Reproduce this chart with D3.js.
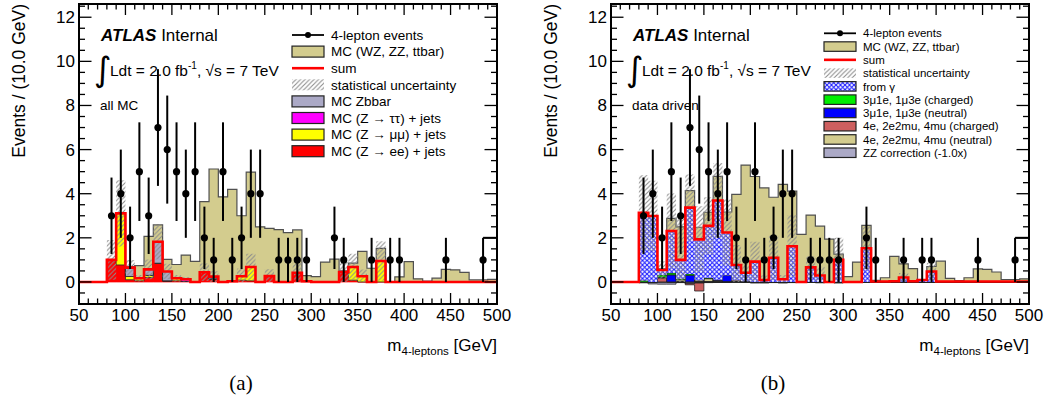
<!DOCTYPE html>
<html>
<head>
<meta charset="utf-8">
<script src="https://cdn.jsdelivr.net/npm/d3@7"></script>
<style>
  html, body { margin: 0; padding: 0; background: #fff; }
  svg { display: block; font-family: "Liberation Sans", Arial, Helvetica, sans-serif; }
</style>
</head>
<body>
<svg id="chart" width="1050" height="408"></svg>
<script>
// ---- binning and axis ranges ----------------------------------------------
const binLow = d3.range(50, 500, 10);          // 45 bins of 10 GeV
const massRange = [50, 500];
const eventRange = [-1, 12.6];
const xMajorTicks = d3.range(50, 501, 50);
const xMinorTicks = d3.range(50, 501, 10);
const yMajorTicks = d3.range(0, 13, 2);
const yMinorTicks = d3.range(-1, 12.51, 0.5);

// ---- observed 4-lepton events per bin --------------------------------------
const dataCounts = [0, 0, 0,
  3, 4, 2, 5, 3, 7, 6, 5, 4, 5,
  2, 1, 5, 1, 2, 4, 4, 0, 1, 1,
  1, 1, 0, 0, 2, 1, 0, 0, 1, 0,
  1, 1, 0, 0, 0, 0, 1, 0, 0, 0,
  1, 0];

// ---- irreducible MC (WZ, ZZ, ttbar), common to both panels -----------------
const mcIrreducible = [0, 0, 0,
  0, 0, 0.05, 0.57, 1.5, 0.77, 0.55, 0.62, 1.1, 0.93,
  3.2, 4.88, 3.86, 4.17, 2.74, 4.3, 2.5, 2.16, 2.37, 2.24,
  1.94, 0.26, 0.24, 0.9, 1.03, 0.05, 0.17, 1.13, 0.62, 0.57,
  0.02, 0.23, 0.92, 0.14, 0.04, 0.17, 0.57, 0.55, 0.43, 0.09,
  0.09, 0.12];

// ---- (a) reducible background from MC ----------------------------------------
const zeeJets = [0, 0, 0,
  1.0, 0.77, 0.1, 0.05, 0.2, 0.85, 0.05, 0.05, 0.02, 0,
  0.44, 0.14, 0, 0.03, 0.08, 0.05, 0, 0.27, 0, 0,
  0.42, 0.03, 0, 0, 0, 0.45, 0.08, 0, 0, 0,
  0, 0, 0, 0, 0, 0, 0, 0, 0, 0,
  0, 0];
const zmumuJets = [0, 0, 0,
  0, 2.34, 0.15, 0.12, 0.1, 0, 0, 0.12, 0, 0,
  0, 0, 0, 0, 0.18, 0.63, 0, 0, 0, 0,
  0, 0, 0, 0, 0, 0, 0.6, 0.26, 0, 0.95,
  0, 0, 0, 0, 0, 0, 0, 0, 0, 0,
  0, 0];
const ztautauJets = [0, 0, 0,
  0, 0, 0, 0, 0, 0, 0, 0, 0.1, 0,
  0, 0, 0, 0, 0, 0, 0, 0, 0, 0,
  0, 0, 0, 0, 0, 0, 0, 0, 0, 0,
  0, 0, 0, 0, 0, 0, 0, 0, 0, 0,
  0, 0];
const zbbar = [0, 0, 0,
  0, 0, 0.4, 0, 0.27, 0.97, 0.42, 0, 0, 0,
  0, 0.1, 0, 0, 0, 0, 0, 0, 0, 0,
  0, 0, 0, 0, 0, 0, 0, 0, 0, 0,
  0, 0, 0, 0, 0, 0, 0, 0, 0, 0,
  0, 0];
const statErrAllMC = [0, 0, 0,
  0.9, 1.5, 0.35, 0.15, 0.45, 0.8, 0.35, 0.15, 0.1, 0,
  0.4, 0.25, 0, 0.05, 0.35, 0.6, 0, 0.3, 0, 0,
  0.45, 0.05, 0, 0, 0, 0.45, 0.6, 0.3, 0, 0.9,
  0, 0, 0, 0, 0, 0, 0, 0, 0, 0,
  0, 0];

// ---- (b) data-driven reducible background ------------------------------------
const fromGamma = [0, 0, 0,
  3.08, 2.99, 0.23, 1.91, 0.85, 3.01, 1.85, 2.36, 3.59, 1.94,
  0.69, 0.39, 0.92, 0.09, 1.1, 0.12, 1.62, 0, 0.66, 0.29,
  0, 1.0, 0, 0, 1.53, 0.02, 0.02, 0.03, 0.2, 0.03,
  0.09, 0.47, 0.02, 0.02, 0.02, 0.02, 0.02, 0.02, 0.02, 0.02,
  0.02, 0.02];
const muCharged = [0, 0, 0,
  0.06, 0, 0.1, 0.08, 0.05, 0.06, 0, 0.03, 0, 0,
  0, 0, 0, 0, 0, 0, 0, 0, 0, 0,
  0, 0, 0, 0, 0, 0, 0, 0, 0, 0,
  0, 0, 0, 0, 0, 0, 0, 0, 0, 0,
  0, 0];
const muNeutral = [0, 0, 0,
  0, 0, 0.03, 0.32, 0, 0.3, 0, 0, 0.04, 0.3,
  0, 0, 0, 0, 0, 0, 0, 0, 0, 0,
  0, 0, 0, 0, 0, 0, 0, 0, 0, 0,
  0, 0, 0, 0, 0, 0, 0, 0, 0, 0,
  0, 0];
const eCharged = [0, 0, 0,
  0, 0, 0.18, 0, 0, -0.05, -0.36, 0, 0, 0,
  0.05, 0.03, 0, 0, 0, 0, 0, 0, 0, 0,
  0, 0, 0, 0, 0, 0, 0, 0, 0, 0,
  0, 0, 0, 0, 0, 0, 0, 0, 0, 0,
  0, 0];
const eNeutral = [0, 0, 0,
  0, 0, 0, 0, 0.1, 0, 0.08, 0.15, 0.06, 0,
  0.03, 0, 0, 0, 0, 0, 0, 0, 0, 0,
  0, 0, 0, 0, 0, 0, 0, 0, 0, 0,
  0, 0, 0, 0, 0, 0, 0, 0, 0, 0,
  0, 0];
const zzCorrection = [0, 0, 0,
  -0.04, -0.09, -0.1, -0.1, -0.03, -0.08, -0.05, -0.03, -0.02, 0,
  0, 0, -0.05, -0.05, -0.03, -0.05, -0.03, 0, 0, -0.04,
  0, -0.05, 0, 0, 0, 0, 0, 0, 0, 0,
  0, 0, 0, 0, 0, 0, 0, 0, 0, 0,
  0, 0];
const statErrDataDriven = [0, 0, 0,
  1.7, 1.6, 0.4, 1.7, 2.0, 1.5, 1.5, 1.3, 1.7, 1.5,
  0.9, 0.4, 0.9, 0.2, 1.0, 0.2, 1.4, 0, 0.5, 0.4,
  0, 1.0, 0, 0, 1.0, 0, 0, 0, 0.2, 0,
  0, 0.4, 0, 0, 0, 0, 0, 0, 0, 0,
  0, 0];

// ---- colours ----------------------------------------------------------------
const TAN = "#d3cc8e";
const LAVENDER = "#aba9c6";

// ---- layout -----------------------------------------------------------------
const W = 418, H = 300, TOP = 4;
const svg = d3.select("#chart");
const defs = svg.append("defs");

// statistical-uncertainty hatch: grey "/" lines
const hatch = defs.append("pattern").attr("id", "statHatch")
  .attr("patternUnits", "userSpaceOnUse").attr("width", 4.5).attr("height", 4.5);
hatch.append("path").attr("d", "M-1,1 L1,-1 M0,4.5 L4.5,0 M3.5,5.5 L5.5,3.5")
  .attr("stroke", "#8c8c8c").attr("stroke-width", 1.1).attr("fill", "none");

// "from gamma" fill: blue cross-hatch on white
const gam = defs.append("pattern").attr("id", "gammaFill")
  .attr("patternUnits", "userSpaceOnUse").attr("width", 4.5).attr("height", 4.5);
gam.append("rect").attr("width", 4.5).attr("height", 4.5).attr("fill", "#fff");
gam.append("path").attr("d", "M0,0 L4.5,4.5 M4.5,0 L0,4.5")
  .attr("stroke", "#1a1aff").attr("stroke-width", 1.1).attr("fill", "none");

function drawPanel(cfg) {
  const g = svg.append("g").attr("transform", `translate(${cfg.x0},${TOP})`);
  const x = d3.scaleLinear().domain(massRange).range([0, W]);
  const y = d3.scaleLinear().domain(eventRange).range([H, 0]);

  const clipId = cfg.id + "-clip";
  defs.append("clipPath").attr("id", clipId)
    .append("rect").attr("width", W).attr("height", H);
  const plot = g.append("g").attr("clip-path", `url(#${clipId})`);

  // stacked backgrounds
  const keys = cfg.layers.map(l => l.key);
  const rows = binLow.map((lo, i) => {
    const r = { lo };
    cfg.layers.forEach(l => { r[l.key] = l.values[i]; });
    return r;
  });
  const stacked = d3.stack().keys(keys)
    .offset(cfg.diverging ? d3.stackOffsetDiverging : d3.stackOffsetNone)(rows);

  const edgePts = (lo, hi) => {
    const pts = binLow.map((b, i) => ({ m: b, lo: lo[i], hi: hi[i] }));
    const n = pts.length - 1;
    pts.push({ m: massRange[1], lo: lo[n], hi: hi[n] });
    return pts;
  };
  const band = d3.area().curve(d3.curveStepAfter)
    .x(d => x(d.m)).y0(d => y(d.lo)).y1(d => y(d.hi));
  const step = d3.line().curve(d3.curveStepAfter)
    .x(d => x(d.m)).y(d => y(d.hi));

  stacked.forEach((layer, li) => {
    const spec = cfg.layers[li];
    plot.append("path")
      .datum(edgePts(layer.map(d => d[0]), layer.map(d => d[1])))
      .attr("d", band)
      .attr("fill", spec.fill)
      .attr("stroke", spec.stroke || "none")
      .attr("stroke-width", spec.strokeWidth || 0.8);
  });

  // totals
  const reducibleKeys = keys.filter(k => k !== "mc");
  const reducibleSum = binLow.map((b, i) =>
    d3.sum(cfg.layers.filter(l => reducibleKeys.includes(l.key)), l => Math.max(0, l.values[i])));
  const totalTop = binLow.map((b, i) => reducibleSum[i] + mcIrreducible[i]);

  // outline of the full MC stack
  plot.append("path").datum(edgePts(totalTop, totalTop)).attr("d", step)
    .attr("fill", "none").attr("stroke", "#505050").attr("stroke-width", 1.2);

  // statistical uncertainty band on the reducible sum
  plot.append("path")
    .datum(edgePts(reducibleSum.map((s, i) => Math.max(0, s - cfg.statErr[i])),
                   reducibleSum.map((s, i) => s + cfg.statErr[i])))
    .attr("d", band).attr("fill", "url(#statHatch)");

  // red sum line
  plot.append("path").datum(edgePts(reducibleSum, reducibleSum)).attr("d", step)
    .attr("fill", "none").attr("stroke", "#ff0000").attr("stroke-width", 2.6);

  // frame and ticks on all four sides
  const axes = g.append("g").attr("stroke", "#000");
  xMinorTicks.forEach(v => {
    const major = xMajorTicks.includes(v);
    const len = major ? 11 : 5.5;
    axes.append("line").attr("x1", x(v)).attr("x2", x(v)).attr("y1", H).attr("y2", H - len).attr("stroke-width", 1.3);
    axes.append("line").attr("x1", x(v)).attr("x2", x(v)).attr("y1", 0).attr("y2", len).attr("stroke-width", 1.3);
  });
  yMinorTicks.forEach(v => {
    const major = yMajorTicks.includes(v);
    const len = major ? 12.5 : 6;
    axes.append("line").attr("x1", 0).attr("x2", len).attr("y1", y(v)).attr("y2", y(v)).attr("stroke-width", 1.3);
    axes.append("line").attr("x1", W).attr("x2", W - len).attr("y1", y(v)).attr("y2", y(v)).attr("stroke-width", 1.3);
  });
  axes.append("rect").attr("width", W).attr("height", H)
    .attr("fill", "none").attr("stroke-width", 2);

  // tick labels
  g.selectAll(null).data(xMajorTicks).join("text")
    .attr("x", d => x(d)).attr("y", H + 17).attr("text-anchor", "middle")
    .attr("font-size", 17).text(d => d);
  g.selectAll(null).data(yMajorTicks).join("text")
    .attr("x", -4).attr("y", d => y(d) + 6).attr("text-anchor", "end")
    .attr("font-size", 17).text(d => d);

  // axis titles
  g.append("text").attr("transform", `translate(-54,0) rotate(-90)`)
    .attr("text-anchor", "end").attr("font-size", 17.5).text("Events / (10.0 GeV)");
  const xt = g.append("text").attr("x", W).attr("y", H + 47).attr("text-anchor", "end").attr("font-size", 17);
  xt.append("tspan").text("m");
  xt.append("tspan").attr("font-size", 11.5).attr("dy", 4).text("4-leptons");
  xt.append("tspan").attr("dy", -4).text(" [GeV]");

  // panel label
  svg.append("text").attr("x", cfg.x0 + 162).attr("y", 390).attr("text-anchor", "middle")
    .attr("font-family", "'Liberation Serif', 'DejaVu Serif', serif").attr("font-size", 21)
    .text(cfg.panelLabel);

  // ATLAS label and luminosity
  const atl = g.append("text").attr("x", 22).attr("y", 37).attr("font-size", 17);
  atl.append("tspan").attr("font-weight", "bold").attr("font-style", "italic").text("ATLAS");
  atl.append("tspan").text(" Internal");
  g.append("text").attr("x", 15).attr("y", 77).attr("font-family", "'DejaVu Sans', sans-serif")
    .attr("font-size", 34).text("\u222B");
  const lum = g.append("text").attr("x", 31).attr("y", 72).attr("font-size", 15.5);
  lum.append("tspan").text("Ldt = 2.0 fb");
  lum.append("tspan").attr("font-size", 10).attr("dy", -7).text("-1");
  lum.append("tspan").attr("dy", 7).text(", \u221As = 7 TeV");
  g.append("text").attr("x", 21).attr("y", 106).attr("font-size", 13.5).text(cfg.note);

  // legend
  const lg = g.append("g");
  cfg.legend.forEach((e, i) => {
    const cy = cfg.legendY0 + i * cfg.legendDy;
    const bx = 213, bw = 32, bh = cfg.legendBoxH;
    if (e.type === "data") {
      lg.append("line").attr("x1", bx).attr("x2", bx + bw).attr("y1", cy).attr("y2", cy)
        .attr("stroke", "#000").attr("stroke-width", 1.8);
      lg.append("circle").attr("cx", bx + bw / 2).attr("cy", cy).attr("r", 3).attr("fill", "#000");
    } else if (e.type === "line") {
      lg.append("line").attr("x1", bx).attr("x2", bx + bw).attr("y1", cy).attr("y2", cy)
        .attr("stroke", e.color).attr("stroke-width", 2.6);
    } else if (e.type === "hatch") {
      lg.append("rect").attr("x", bx).attr("y", cy - bh / 2).attr("width", bw).attr("height", bh)
        .attr("fill", "url(#statHatch)");
    } else {
      lg.append("rect").attr("x", bx).attr("y", cy - bh / 2).attr("width", bw).attr("height", bh)
        .attr("fill", e.color).attr("stroke", "#222").attr("stroke-width", 1.2);
    }
    lg.append("text").attr("x", 252).attr("y", cy + cfg.legendFont * 0.36)
      .attr("font-size", cfg.legendFont).text(e.label);
  });

  // data points with sqrt(N) error bars
  const pts = binLow.map((b, i) => ({ m: b + 5, n: dataCounts[i] })).filter(d => d.n > 0);
  const dg = g.append("g");
  pts.forEach(d => {
    const e = Math.sqrt(d.n);
    dg.append("line").attr("x1", x(d.m)).attr("x2", x(d.m))
      .attr("y1", y(d.n - e)).attr("y2", y(d.n + e))
      .attr("stroke", "#000").attr("stroke-width", 2);
    dg.append("circle").attr("cx", x(d.m)).attr("cy", y(d.n)).attr("r", 3.6).attr("fill", "#000");
  });
  // last error bar continues to the upper edge of the final bin
  const last = pts[pts.length - 1];
  dg.append("line").attr("x1", x(last.m)).attr("x2", x(massRange[1]))
    .attr("y1", y(last.n + Math.sqrt(last.n))).attr("y2", y(last.n + Math.sqrt(last.n)))
    .attr("stroke", "#000").attr("stroke-width", 2);
}

drawPanel({
  id: "allmc", x0: 79, panelLabel: "(a)", note: "all MC",
  layers: [
    { key: "zee", values: zeeJets, fill: "#ff0000", stroke: "#ff0000" },
    { key: "zmumu", values: zmumuJets, fill: "#ffff00", stroke: "#222" },
    { key: "ztautau", values: ztautauJets, fill: "#ff00ff", stroke: "#222" },
    { key: "zbb", values: zbbar, fill: LAVENDER, stroke: "#222" },
    { key: "mc", values: mcIrreducible, fill: TAN }
  ],
  statErr: statErrAllMC,
  legendY0: 31, legendDy: 16.6, legendBoxH: 11, legendFont: 13.5,
  legend: [
    { type: "data", label: "4-lepton events" },
    { type: "box", color: TAN, label: "MC (WZ, ZZ, ttbar)" },
    { type: "line", color: "#ff0000", label: "sum" },
    { type: "hatch", label: "statistical uncertainty" },
    { type: "box", color: LAVENDER, label: "MC Zbbar" },
    { type: "box", color: "#ff00ff", label: "MC (Z \u2192 \u03C4\u03C4) + jets" },
    { type: "box", color: "#ffff00", label: "MC (Z \u2192 \u03BC\u03BC) + jets" },
    { type: "box", color: "#ff0000", label: "MC (Z \u2192 ee) + jets" }
  ]
});

drawPanel({
  id: "datadriven", x0: 611, panelLabel: "(b)", note: "data driven", diverging: true,
  layers: [
    { key: "zz", values: zzCorrection, fill: LAVENDER, stroke: "#222" },
    { key: "eN", values: eNeutral, fill: TAN, stroke: "#222" },
    { key: "eC", values: eCharged, fill: "#cd5f5f", stroke: "#222" },
    { key: "muN", values: muNeutral, fill: "#0000ff", stroke: "#222" },
    { key: "muC", values: muCharged, fill: "#00ee00", stroke: "#222" },
    { key: "gamma", values: fromGamma, fill: "url(#gammaFill)" },
    { key: "mc", values: mcIrreducible, fill: TAN }
  ],
  statErr: statErrDataDriven,
  legendY0: 29.3, legendDy: 13.27, legendBoxH: 9.5, legendFont: 11.5,
  legend: [
    { type: "data", label: "4-lepton events" },
    { type: "box", color: TAN, label: "MC (WZ, ZZ, ttbar)" },
    { type: "line", color: "#ff0000", label: "sum" },
    { type: "hatch", label: "statistical uncertainty" },
    { type: "box", color: "url(#gammaFill)", label: "from \u03B3" },
    { type: "box", color: "#00ee00", label: "3\u03BC1e, 1\u03BC3e (charged)" },
    { type: "box", color: "#0000ff", label: "3\u03BC1e, 1\u03BC3e (neutral)" },
    { type: "box", color: "#cd5f5f", label: "4e, 2e2mu, 4mu (charged)" },
    { type: "box", color: TAN, label: "4e, 2e2mu, 4mu (neutral)" },
    { type: "box", color: LAVENDER, label: "ZZ correction (-1.0x)" }
  ]
});
</script>
</body>
</html>
